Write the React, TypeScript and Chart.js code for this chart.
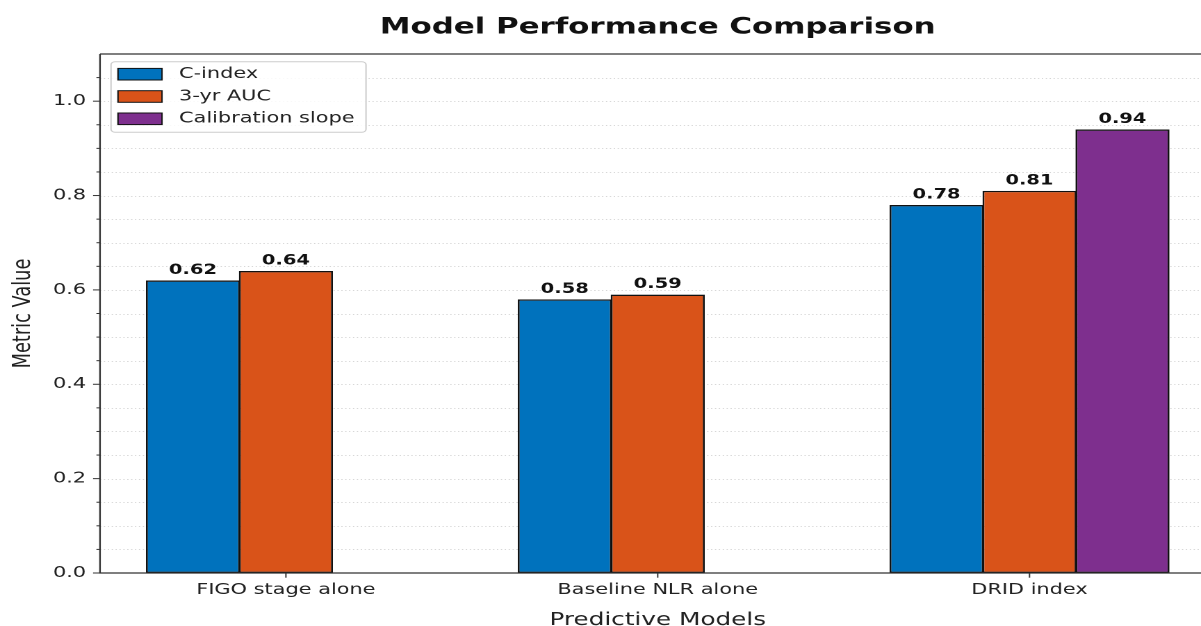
import React, { useEffect, useRef } from "react";
import { Chart, registerables } from "chart.js";

Chart.register(...registerables);

// ---- data ----
const categories = ["FIGO stage alone", "Baseline NLR alone", "DRID index"];
const seriesNames = ["C-index", "3-yr AUC", "Calibration slope"];
const cIndexValues = [0.62, 0.58, 0.78];
const auc3yrValues = [0.64, 0.59, 0.81];
const calibrationSlopeValues: (number | null)[] = [null, null, 0.94];
const seriesColors = ["#0072BD", "#D95319", "#7E2F8E"];
const yMin = 0;
const yMax = 1.1;
const yMinorStep = 0.05;
const yMajorStep = 0.2;
const chartTitle = "Model Performance Comparison";
const xTitle = "Predictive Models";
const yTitle = "Metric Value";

// ---- layout (logical canvas px, stretched horizontally by S) ----
const S = 1.39;
const W = 900;
const H = 626;
const PLOT_LEFT = 100 / S;
const PLOT_RIGHT = 1215.4 / S;
const PLOT_TOP = 54;
const PLOT_BOTTOM = 573;
const FONT = "'DejaVu Sans', 'Noto Sans', sans-serif";
const TEXT = "#222222";
const SPINE = "#333333";

const isMajor = (v: number) => Math.abs(Math.round(v * 100) % Math.round(yMajorStep * 100)) === 0;

const decorPlugin = {
  id: "decor",
  beforeDatasetsDraw(chart: any) {
    const { ctx, chartArea: a, scales } = chart;
    const y = scales.y;
    ctx.save();
    ctx.strokeStyle = "#c8c8c8";
    ctx.lineWidth = 0.8;
    ctx.setLineDash([0.9, 1.9]);
    const n = Math.round((yMax - yMin) / yMinorStep);
    for (let i = 1; i < n; i++) {
      const py = Math.round(y.getPixelForValue(yMin + i * yMinorStep)) + 0.5;
      ctx.beginPath();
      ctx.moveTo(a.left, py);
      ctx.lineTo(a.right, py);
      ctx.stroke();
    }
    ctx.restore();
  },
  afterDatasetsDraw(chart: any) {
    const { ctx, chartArea: a, scales } = chart;
    const y = scales.y;
    const x = scales.x;
    ctx.save();

    // value labels
    ctx.fillStyle = "#111111";
    ctx.font = `bold 14px ${FONT}`;
    ctx.textAlign = "center";
    ctx.textBaseline = "alphabetic";
    chart.data.datasets.forEach((ds: any, di: number) => {
      const meta = chart.getDatasetMeta(di);
      meta.data.forEach((el: any, i: number) => {
        const v = ds.data[i];
        if (v === null || v === undefined) return;
        ctx.fillText(v.toFixed(2), el.x, el.y - 6.5);
      });
    });

    // spines
    ctx.strokeStyle = SPINE;
    ctx.lineWidth = 1.2;
    ctx.beginPath();
    ctx.moveTo(a.left, a.top);
    ctx.lineTo(a.right, a.top);
    ctx.moveTo(a.left, a.top);
    ctx.lineTo(a.left, a.bottom);
    ctx.lineTo(a.right, a.bottom);
    ctx.stroke();

    // y ticks
    ctx.lineWidth = 1;
    const n = Math.round((yMax - yMin) / yMinorStep);
    for (let i = 0; i < n; i++) {
      const v = yMin + i * yMinorStep;
      const py = y.getPixelForValue(v);
      const len = isMajor(v) ? 5 : 2.6;
      ctx.beginPath();
      ctx.moveTo(a.left - len, py);
      ctx.lineTo(a.left, py);
      ctx.stroke();
    }
    // x ticks
    categories.forEach((_, i) => {
      const px = x.getPixelForValue(i);
      ctx.beginPath();
      ctx.moveTo(px, a.bottom);
      ctx.lineTo(px, a.bottom + 4.7);
      ctx.stroke();
    });

    // legend
    const lx0 = 111 / S, lx1 = 366 / S, ly0 = 61.7, ly1 = 132.3;
    ctx.beginPath();
    ctx.roundRect(lx0, ly0, lx1 - lx0, ly1 - ly0, 3);
    ctx.fillStyle = "rgba(255,255,255,0.85)";
    ctx.fill();
    ctx.strokeStyle = "#cccccc";
    ctx.lineWidth = 1;
    ctx.stroke();
    const rowY = [74.2, 96.5, 118.8];
    seriesNames.forEach((name, i) => {
      const px0 = 118 / S, px1 = 162 / S;
      const h = 11.6;
      ctx.fillStyle = seriesColors[i];
      ctx.fillRect(px0, rowY[i] - h / 2, px1 - px0, h);
      ctx.strokeStyle = "#111111";
      ctx.lineWidth = 1;
      ctx.strokeRect(px0, rowY[i] - h / 2, px1 - px0, h);
      ctx.fillStyle = TEXT;
      ctx.font = `15px ${FONT}`;
      ctx.textAlign = "left";
      ctx.textBaseline = "middle";
      ctx.fillText(name, 179 / S, rowY[i]);
    });

    // titles
    const cx = (a.left + a.right) / 2;
    ctx.fillStyle = "#111111";
    ctx.font = `bold 22.2px ${FONT}`;
    ctx.textAlign = "center";
    ctx.textBaseline = "alphabetic";
    ctx.fillText(chartTitle, cx, 33.3);

    ctx.fillStyle = TEXT;
    ctx.font = `17.8px ${FONT}`;
    ctx.fillText(xTitle, cx, 625);

    ctx.save();
    ctx.translate(30 / S, (a.top + a.bottom) / 2);
    ctx.rotate(-Math.PI / 2);
    ctx.textAlign = "center";
    ctx.textBaseline = "alphabetic";
    ctx.fillText(yTitle, 0, 0);
    ctx.restore();

    ctx.restore();
  },
};

export default function App() {
  const canvasRef = useRef<HTMLCanvasElement | null>(null);

  useEffect(() => {
    if (!canvasRef.current) return;
    const seriesValues = [cIndexValues, auc3yrValues, calibrationSlopeValues];
    const chart = new Chart(canvasRef.current, {
      type: "bar",
      data: {
        labels: categories,
        datasets: seriesNames.map((name, i) => ({
          label: name,
          data: seriesValues[i] as any,
          backgroundColor: seriesColors[i],
          borderColor: "#111111",
          borderWidth: 1.4,
          borderSkipped: false,
          categoryPercentage: 0.75,
          barPercentage: 1.012,
        })),
      },
      options: {
        animation: false,
        responsive: true,
        maintainAspectRatio: false,
        devicePixelRatio: 2,
        events: [],
        layout: {
          padding: { top: PLOT_TOP, left: 0, right: W - PLOT_RIGHT, bottom: 0 },
        },
        plugins: {
          legend: { display: false },
          title: { display: false },
          tooltip: { enabled: false },
        },
        scales: {
          x: {
            type: "category",
            offset: true,
            grid: { display: false, drawTicks: false },
            border: { display: false },
            ticks: {
              color: TEXT,
              font: { family: FONT, size: 15 },
              padding: 8,
              maxRotation: 0,
              autoSkip: false,
            },
            afterFit: (scale: any) => {
              scale.height = H - PLOT_BOTTOM;
            },
          },
          y: {
            type: "linear",
            min: yMin,
            max: yMax,
            grid: { display: false, drawTicks: false },
            border: { display: false },
            ticks: {
              stepSize: yMinorStep,
              autoSkip: false,
              color: TEXT,
              font: { family: FONT, size: 15 },
              padding: 10,
              callback: (v: any) => (isMajor(Number(v)) && Number(v) <= 1.0001 ? Number(v).toFixed(1) : ""),
            },
            afterFit: (scale: any) => {
              scale.width = PLOT_LEFT;
            },
          },
        },
      },
      plugins: [decorPlugin],
    });
    return () => chart.destroy();
  }, []);

  return (
    <div
      style={{
        position: "fixed",
        left: 0,
        top: 0,
        width: 1201,
        height: 626,
        overflow: "hidden",
        background: "#ffffff",
      }}
    >
      <div
        style={{
          position: "relative",
          width: W,
          height: H,
          transform: `scaleX(${S})`,
          transformOrigin: "0 0",
        }}
      >
        <canvas ref={canvasRef} />
      </div>
    </div>
  );
}
